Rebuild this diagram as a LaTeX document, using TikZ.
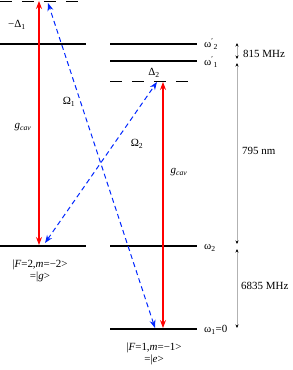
\documentclass[tikz,border=0pt]{standalone}
\usepackage{fontspec}
\setmainfont{Liberation Serif}
\usetikzlibrary{arrows.meta}

\newcommand*{\lvlL}{0}
\newcommand*{\lvlLe}{86}
\newcommand*{\lvlR}{110}
\newcommand*{\lvlRe}{197}
\newcommand*{\gap}{237}
\newcommand*{\sub}[1]{\textsubscript{#1}}
\newcommand*{\wpr}[1]{ω\textsuperscript{′}\sub{#1}}

\tikzset{
  level/.style={line width=1.6pt},
  virtual/.style={line width=0.8pt, dash pattern=on 12pt off 10pt},
  cav/.style={draw=red, line width=1.1pt, {Stealth[red,length=8pt,width=6pt]}-{Stealth[red,length=8pt,width=6pt]}},
  pump/.style={draw=blue!85!cyan, line width=1pt, dash pattern=on 5pt off 3.5pt, {Stealth[length=8pt,width=6pt]}-{Stealth[length=8pt,width=6pt]}},
  split/.style={draw=gray!60, line width=1pt, {Stealth[black,length=3.5pt,width=3pt]}-{Stealth[black,length=3.5pt,width=3pt]}},
  lbl/.style={inner sep=1pt, font=\fontsize{11}{12}\selectfont}
}

\begin{document}
\begin{tikzpicture}[x=1bp,y=-1bp]
	\useasboundingbox (0,0) rectangle (293,370);

	% levels, left
	\draw[virtual] (\lvlL,1) -- (\lvlLe,1);
	\draw[level] (\lvlL,44) -- (\lvlLe,44);
	\draw[level] (\lvlL,246) -- (\lvlLe,246);

	% levels, right
	\draw[level] (\lvlR,44) -- (\lvlRe,44);
	\draw[level] (\lvlR,61) -- (\lvlRe,61);
	\draw[virtual] (\lvlR,81) -- (\lvlRe,81);
	\draw[level] (\lvlR,246) -- (\lvlRe,246);
	\draw[level] (\lvlR,329) -- (\lvlRe,329);

	% ends of the transitions
	\coordinate (cavLtop) at (39,1);
	\coordinate (cavLbot) at (39,245);
	\coordinate (cavRtop) at (163,82);
	\coordinate (cavRbot) at (163,328);
	\coordinate (om1top) at (48,3);
	\coordinate (om1bot) at (155,328);
	\coordinate (om2top) at (157,82);
	\coordinate (om2bot) at (45,243);

	\draw[cav] (cavLbot) -- (cavLtop);
	\draw[cav] (cavRbot) -- (cavRtop);
	\draw[pump] (om1bot) -- (om1top);
	\draw[pump] (om2bot) -- (om2top);

	% splittings
	\coordinate (s1) at (\gap,43);
	\coordinate (s2) at (\gap,59);
	\coordinate (s3) at (\gap,63);
	\coordinate (s4) at (\gap,244);
	\coordinate (s5) at (\gap,249);
	\coordinate (s6) at (\gap,328);
	\draw[split] (s1) -- (s2);
	\draw[split] (s3) -- (s4);
	\draw[split] (s5) -- (s6);

	% labels
	\node[lbl] (dL) at (17,25) {−Δ\sub{1}};
	\node[lbl] (dR) at (154,73) {Δ\sub{2}};
	\node[lbl] (O1) at (69,102) {Ω\sub{1}};
	\node[lbl] (O2) at (137,144) {Ω\sub{2}};
	\node[lbl] (gL) at (23,127) {\textit{g}\sub{\textit{cav}}};
	\node[lbl] (gR) at (179,172) {\textit{g}\sub{\textit{cav}}};
	\node[lbl, anchor=west] (w2p) at (203,44) {\wpr{2}};
	\node[lbl, anchor=west] (w1p) at (203,62) {\wpr{1}};
	\node[lbl, anchor=west] (w2) at (203,248) {ω\sub{2}};
	\node[lbl, anchor=west] (w1) at (203,330) {ω\sub{1}=0};
	\node[lbl, anchor=west] (f815) at (242,54) {815 MHz};
	\node[lbl, anchor=west] (f795) at (241,151) {795 nm};
	\node[lbl, anchor=west] (f6835) at (240,286) {6835 MHz};
	\node[lbl, align=center] (stg) at (40,271) {|\textit{F}=2,\textit{m}=−2>\\=|\textit{g}>};
	\node[lbl, align=center] (ste) at (154,354) {|\textit{F}=1,\textit{m}=−1>\\=|\textit{e}>};

\end{tikzpicture}
\end{document}
